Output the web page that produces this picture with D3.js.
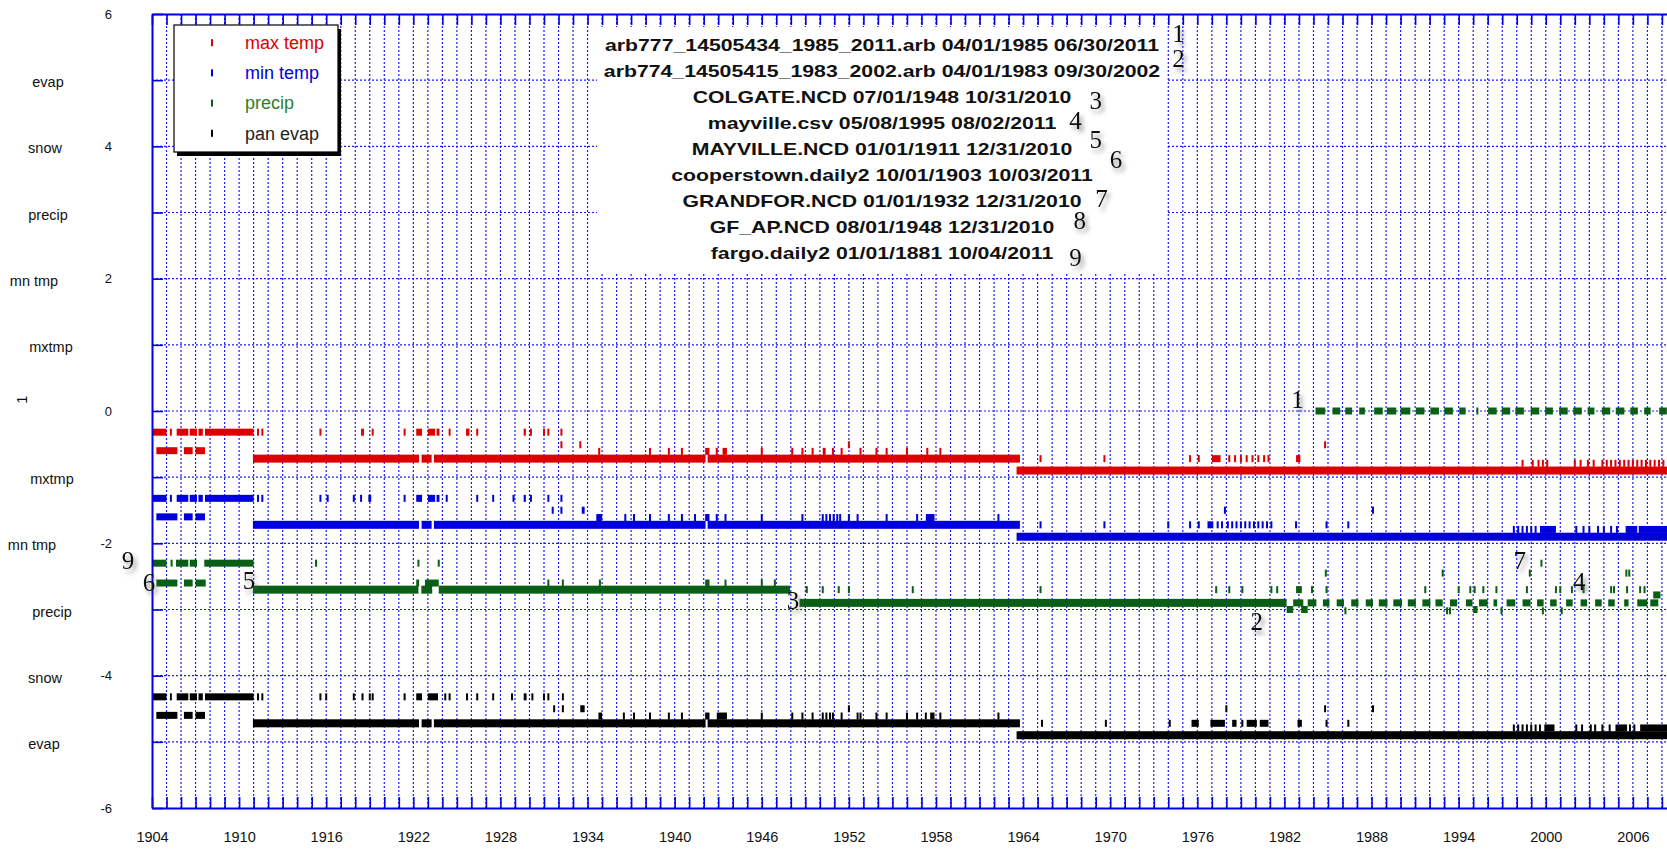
<!DOCTYPE html>
<html>
<head>
<meta charset="utf-8">
<script src="https://cdn.jsdelivr.net/npm/d3@7"></script>
<style>
  html, body { margin: 0; padding: 0; background: #fff; overflow: hidden; }
  svg { display: block; font-family: "Liberation Sans", Arial, Helvetica, sans-serif; }
</style>
</head>
<body>
<svg id="chart" width="1667" height="853"></svg>
<script>
// ---------------------------------------------------------------
// Station record availability, 1904 onwards.
// Each record is drawn as [fromYear, toYear, rowLevel];
// short reports are listed as [rowLevel, [years...]].
// ---------------------------------------------------------------

const yearLabels = [1904, 1910, 1916, 1922, 1928, 1934, 1940, 1946, 1952, 1958, 1964, 1970, 1976, 1982, 1988, 1994, 2000, 2006];
const yTickLabels = [6, 4, 2, 0, -2, -4, -6];
const sideLabels = ["evap", "snow", "precip", "mn tmp", "mxtmp", "mxtmp", "mn tmp", "precip", "snow", "evap"];
const sideLevels = [5, 4, 3, 2, 1, -1, -2, -3, -4, -5];

const legendNames = ["max temp", "min temp", "precip", "pan evap"];

const stationFiles = [
  "arb777_14505434_1985_2011.arb 04/01/1985 06/30/2011",
  "arb774_14505415_1983_2002.arb 04/01/1983 09/30/2002",
  "COLGATE.NCD 07/01/1948 10/31/2010",
  "mayville.csv 05/08/1995 08/02/2011",
  "MAYVILLE.NCD 01/01/1911 12/31/2010",
  "cooperstown.daily2 10/01/1903 10/03/2011",
  "GRANDFOR.NCD 01/01/1932 12/31/2010",
  "GF_AP.NCD 08/01/1948 12/31/2010",
  "fargo.daily2 01/01/1881 10/04/2011"
];

// ---- max temperature ----
const maxTempLines = [
  [1910.95, 1922.39, -0.72], [1922.57, 1923.26, -0.72], [1923.42, 1942.13, -0.72],
  [1942.27, 1963.78, -0.72], [1963.55, 2012, -0.9]
];
const maxTempBlocks = [
  [1904.0, 1905.0, -0.32], [1905.7, 1906.5, -0.32], [1906.6, 1907.1, -0.32], [1907.2, 1907.5, -0.32], [1907.65, 1911.0, -0.32],
  [1904.3, 1905.75, -0.6], [1906.2, 1906.8, -0.6], [1907.0, 1907.65, -0.6],
  [1918.4, 1918.6, -0.32], [1922.2, 1922.6, -0.32], [1923.0, 1923.5, -0.32], [1923.6, 1923.8, -0.32], [1929.6, 1929.75, -0.32],
  [1942.1, 1942.4, -0.61], [1943.3, 1943.6, -0.61], [1950.2, 1950.4, -0.61],
  [1977.0, 1977.6, -0.72], [1982.8, 1983.1, -0.72]
];
const maxTempTicks = [
  [-0.32, [1905.3, 1911.3, 1911.6, 1915.6, 1919.2, 1921.4, 1924.5, 1925.7, 1925.8, 1926.4, 1930.1, 1931.0, 1931.3, 1932.2]],
  [-0.6, [1904.0]],
  [-0.51, [1932.2, 1933.5, 1952.0, 1984.8]],
  [-0.61, [1934.8, 1938.3, 1939.6, 1940.5, 1942.9, 1946.0, 1948.1, 1948.8, 1949.5, 1950.9, 1951.5, 1952.8, 1953.9, 1954.6, 1956.0, 1957.4, 1958.3]],
  [-0.72, [1965.2, 1969.6, 1975.5, 1976.1, 1978.2, 1978.6, 1979.0, 1979.4, 1979.8, 1980.2, 1980.6, 1980.9]],
  [-0.79, [1998.4, 1999.1, 1999.5, 1999.8, 2000.1, 2002.0, 2002.4, 2002.9, 2003.3, 2003.9, 2004.2, 2004.5, 2004.8, 2005.1, 2005.4, 2005.7, 2006.0, 2006.3, 2006.6, 2006.9, 2007.2, 2007.5, 2007.8, 2008.1]]
];

// ---- min temperature ----
const minTempLines = [
  [1910.95, 1922.39, -1.72], [1922.57, 1923.26, -1.72], [1923.42, 1942.13, -1.72],
  [1942.27, 1963.78, -1.72], [1963.55, 2012, -1.9]
];
const minTempBlocks = [
  [1904.0, 1905.0, -1.32], [1905.7, 1906.5, -1.32], [1906.6, 1907.1, -1.32], [1907.2, 1907.5, -1.32], [1907.65, 1911.0, -1.32],
  [1904.3, 1905.75, -1.6], [1906.2, 1906.8, -1.6], [1907.0, 1907.65, -1.6],
  [1918.9, 1919.1, -1.32], [1922.2, 1922.6, -1.32], [1923.0, 1923.5, -1.32], [1923.6, 1923.8, -1.32], [1929.6, 1929.75, -1.32],
  [1933.6, 1933.8, -1.5],
  [1934.6, 1935.0, -1.61], [1942.1, 1942.4, -1.61], [1957.3, 1957.9, -1.61],
  [1976.7, 1977.1, -1.72],
  [1999.6, 2000.7, -1.79], [2005.5, 2006.3, -1.79], [2006.4, 2012, -1.79]
];
const minTempTicks = [
  [-1.32, [1905.3, 1911.3, 1911.6, 1915.6, 1916.1, 1917.9, 1918.4, 1921.4, 1924.3, 1926.4, 1927.5, 1928.9, 1930.1, 1931.3, 1932.2]],
  [-1.6, [1904.0]],
  [-1.5, [1931.6, 1932.2, 1977.9, 1988.1]],
  [-1.61, [1936.6, 1937.2, 1938.3, 1939.6, 1940.5, 1941.4, 1942.9, 1943.5, 1946.0, 1948.8, 1950.2, 1950.45, 1950.7, 1950.95, 1951.2, 1951.4, 1952.0, 1952.6, 1954.6, 1956.7, 1962.3]],
  [-1.72, [1965.2, 1969.6, 1974.0, 1975.5, 1976.1, 1977.4, 1977.7, 1978.1, 1978.4, 1978.7, 1979.0, 1979.3, 1979.6, 1979.9, 1980.2, 1980.5, 1980.8, 1981.1, 1982.8, 1984.9, 1986.4]],
  [-1.79, [1997.8, 1998.1, 1998.4, 1998.7, 1999.0, 1999.3, 2002.1, 2002.6, 2003.0, 2003.6, 2004.0, 2004.5, 2004.9]]
];

// ---- precipitation ----
const precipLines = [
  [1910.95, 1922.35, -2.7], [1922.55, 1923.3, -2.7], [1923.75, 1947.95, -2.7],
  [1948.6, 1982.15, -2.9]
];
const precipBlocks = [
  [1904.0, 1905.0, -2.3], [1905.65, 1906.5, -2.3], [1906.6, 1907.1, -2.3], [1907.6, 1911.0, -2.3],
  [1904.3, 1905.75, -2.6], [1906.2, 1906.8, -2.6], [1907.0, 1907.7, -2.6],
  [1922.2, 1922.4, -2.6], [1922.8, 1923.75, -2.6], [1942.1, 1942.4, -2.6],
  [1982.8, 1983.2, -2.7],
  [1982.15, 1982.6, -3.0], [1983.15, 1983.6, -3.0], [1995.0, 1995.3, -3.0],
  [2007.4, 2007.9, -2.78]
];
// arb774 yearly pieces on the Colgate row
const precipArb774 = [
  [1982.6, 1983.3], [1983.6, 1984.2], [1984.65, 1985.1], [1985.6, 1986.1], [1986.6, 1987.1], [1987.6, 1988.1],
  [1988.5, 1989.1], [1989.5, 1990.1], [1990.5, 1991.05], [1991.5, 1992.05], [1992.4, 1992.9], [1993.4, 1993.9],
  [1994.5, 1994.95], [1995.4, 1996.0], [1996.4, 1996.65], [1997.3, 1997.9], [1998.4, 1998.95], [1999.4, 1999.85],
  [2000.3, 2000.75], [2001.4, 2001.85], [2002.4, 2002.85], [2003.4, 2003.85], [2004.3, 2004.75], [2005.4, 2005.7],
  [2006.3, 2007.0], [2007.2, 2007.75]
];
// arb777 yearly pieces on the zero row
const precipArb777 = [
  [1984.14, 1984.81], [1985.31, 1985.84], [1986.19, 1986.66], [1987.15, 1987.54], [1988.18, 1988.77], [1989.05, 1989.7],
  [1989.99, 1990.67], [1991.05, 1991.64], [1992.05, 1992.64], [1993.01, 1993.6], [1994.04, 1994.48], [1995.22, 1995.32],
  [1996.03, 1996.62], [1996.97, 1997.55], [1997.9, 1998.49], [1998.96, 1999.55], [1999.96, 2000.49], [2000.92, 2001.51],
  [2001.89, 2002.48], [2002.88, 2003.35], [2003.86, 2004.44], [2004.82, 2005.41], [2005.82, 2006.34], [2006.78, 2007.22],
  [2007.81, 2008.34]
];
const precipTicks = [
  [-2.3, [1905.35, 1915.3, 1922.35, 1923.75, 1999.7]],
  [-2.45, [1984.85, 1992.9, 1998.9, 2005.55, 2005.75]],
  [-2.6, [1931.3, 1932.3, 1934.85, 1943.5, 1946.0, 1946.9]],
  [-2.7, [1949.1, 1950.2, 1951.3, 1952.0, 1956.4, 1965.2, 1977.3, 1978.2, 1979.1, 1981.1, 1981.5, 1983.9, 1984.9, 1991.7, 1994.0, 1994.8, 1995.1, 1995.7, 1996.6, 1998.7, 2000.7, 2001.0, 2001.8, 2002.6, 2004.5, 2004.7, 2005.6, 2006.5, 2006.8]],
  [-3.02, [1986.2, 1993.2, 1993.4, 1996.95, 1999.8, 2001.1]]
];

// ---- pan evaporation ----
const evapLines = [
  [1910.95, 1922.39, -4.72], [1922.57, 1923.26, -4.72], [1923.42, 1942.13, -4.72],
  [1942.27, 1963.78, -4.72], [1963.55, 2012, -4.9]
];
const evapBlocks = [
  [1904.0, 1905.0, -4.32], [1905.7, 1906.5, -4.32], [1906.6, 1907.1, -4.32], [1907.2, 1907.5, -4.32], [1907.65, 1911.0, -4.32],
  [1904.3, 1905.75, -4.6], [1906.2, 1906.8, -4.6], [1907.0, 1907.65, -4.6],
  [1922.2, 1922.6, -4.32], [1923.0, 1923.7, -4.32], [1929.6, 1929.8, -4.32],
  [1933.5, 1933.8, -4.5],
  [1934.75, 1935.0, -4.61], [1942.1, 1942.4, -4.61], [1942.9, 1943.6, -4.61], [1957.6, 1957.9, -4.61],
  [1975.6, 1976.1, -4.72], [1976.9, 1977.9, -4.72], [1978.4, 1978.7, -4.72], [1979.4, 1980.1, -4.72], [1980.3, 1980.9, -4.72], [1982.9, 1983.2, -4.72],
  [1999.9, 2000.6, -4.79], [2004.8, 2005.6, -4.79], [2006.5, 2012, -4.79]
];
const evapTicks = [
  [-4.32, [1905.3, 1911.3, 1911.6, 1915.6, 1916.0, 1917.9, 1918.5, 1919.0, 1919.2, 1921.4, 1924.2, 1924.5, 1925.7, 1926.4, 1927.5, 1928.8, 1930.2, 1931.0, 1931.3, 1932.3]],
  [-4.6, [1904.0]],
  [-4.5, [1931.7, 1932.3, 1952.0, 1978.0, 1984.8, 1988.1]],
  [-4.61, [1936.5, 1937.2, 1938.3, 1939.6, 1940.5, 1946.0, 1948.1, 1948.8, 1949.5, 1950.2, 1950.45, 1950.7, 1950.9, 1951.5, 1952.6, 1952.8, 1953.9, 1954.6, 1956.0, 1956.7, 1957.3, 1958.3, 1962.3]],
  [-4.72, [1965.3, 1969.7, 1974.1, 1979.1, 1984.9, 1986.4]],
  [-4.79, [1997.8, 1998.1, 1998.4, 1998.7, 1999.0, 1999.3, 1999.6, 2002.1, 2002.5, 2003.1, 2003.4, 2003.9, 2004.4, 2005.8, 2006.1]]
];

// station numbers beside the rows: [label, year, level]
const stationMarks = [
  ["9", 1902.35, -2.26], ["6", 1903.8, -2.59], ["5", 1910.68, -2.56], ["3", 1948.15, -2.87],
  ["2", 1980.1, -3.18], ["1", 1982.9, 0.17], ["7", 1998.2, -2.26], ["4", 2002.3, -2.58]
];
// station numbers beside the file list: [label, year, level]
const fileMarks = [
  ["1", 1974.7, 5.7], ["2", 1974.7, 5.33], ["3", 1969.0, 4.69], ["4", 1967.6, 4.39], ["5", 1969.0, 4.1],
  ["6", 1970.4, 3.8], ["7", 1969.4, 3.21], ["8", 1967.9, 2.88], ["9", 1967.6, 2.32]
];

// ---------------------------------------------------------------
const W = 1667, H = 853;
const plotLeft = 152, plotTop = 14, plotBottom = 808;
const x = d3.scaleLinear().domain([1904, 2012]).range([plotLeft, 1720]);
const y = d3.scaleLinear().domain([-6, 6]).range([plotBottom, plotTop]);

const BLUE = "#0000e6";
const GRID = "#1a1aff";
const colors = { max: "#dd0000", min: "#0000dd", precip: "#0a5e16", evap: "#000000" };

const svg = d3.select("#chart");

const defs = svg.append("defs");
const sh = defs.append("filter").attr("id", "numShadow")
  .attr("x", "-60%").attr("y", "-60%").attr("width", "220%").attr("height", "220%");
sh.append("feDropShadow").attr("dx", 3).attr("dy", 4).attr("stdDeviation", 2.2)
  .attr("flood-color", "#555").attr("flood-opacity", 0.6);
defs.append("clipPath").attr("id", "plotClip").append("rect")
  .attr("x", plotLeft).attr("y", plotTop).attr("width", W - plotLeft).attr("height", plotBottom - plotTop);

svg.append("rect").attr("width", W).attr("height", H).attr("fill", "#fff");

// grid
const allYears = d3.range(1904, 2013);
const grid = svg.append("g").attr("clip-path", "url(#plotClip)");
grid.selectAll("line.v").data(allYears).join("line")
  .attr("class", "v")
  .attr("x1", d => x(d)).attr("x2", d => x(d))
  .attr("y1", plotTop).attr("y2", plotBottom)
  .attr("stroke", GRID).attr("stroke-width", 1.2).attr("stroke-dasharray", "2,2");
grid.selectAll("line.h").data(d3.range(-5, 6)).join("line")
  .attr("class", "h")
  .attr("x1", plotLeft).attr("x2", W)
  .attr("y1", d => y(d)).attr("y2", d => y(d))
  .attr("stroke", GRID).attr("stroke-width", 1.2).attr("stroke-dasharray", "2,2");

// file list panel
const listCx = 882;
svg.append("rect").attr("x", 597).attr("y", 27).attr("width", 570).attr("height", 245).attr("fill", "#fff");
const listG = svg.append("g");
listG.selectAll("text").data(stationFiles).join("text")
  .attr("transform", (d, i) => `translate(${listCx},${45 + i * 26 + 6}) scale(1.25,1)`)
  .attr("text-anchor", "middle")
  .attr("font-weight", "bold")
  .attr("font-size", 17)
  .attr("fill", "#111")
  .text(d => d);

// legend
const lg = svg.append("g");
lg.append("rect").attr("x", 177).attr("y", 29).attr("width", 164).attr("height", 127).attr("fill", "#000");
lg.append("rect").attr("x", 174).attr("y", 25).attr("width", 164).attr("height", 127)
  .attr("fill", "#fff").attr("stroke", "#000").attr("stroke-width", 1.2);
const legendColors = [colors.max, colors.min, "#2a7f2a", "#222"];
const legendMarkColors = [colors.max, colors.min, colors.precip, "#000"];
legendNames.forEach((name, i) => {
  const cy = 42.7 + i * 30.2;
  lg.append("rect").attr("x", 211).attr("y", cy - 3.5).attr("width", 2).attr("height", 7).attr("fill", legendMarkColors[i]);
  lg.append("text").attr("x", 245).attr("y", cy + 6.3).attr("font-size", 18)
    .attr("fill", legendColors[i]).text(name);
});

// data marks
const marks = svg.append("g").attr("clip-path", "url(#plotClip)");
const LINE_H = 8, BLOCK_H = 7, TICK_W = 2;

function drawRecord(color, lines, blocks, ticks) {
  const g = marks.append("g").attr("fill", color);
  g.selectAll("rect.line").data(lines).join("rect").attr("class", "line")
    .attr("x", d => x(d[0])).attr("width", d => Math.max(TICK_W, x(d[1]) - x(d[0])))
    .attr("y", d => y(d[2]) - LINE_H / 2).attr("height", LINE_H);
  g.selectAll("rect.block").data(blocks).join("rect").attr("class", "block")
    .attr("x", d => x(d[0])).attr("width", d => Math.max(TICK_W, x(d[1]) - x(d[0])))
    .attr("y", d => y(d[2]) - BLOCK_H / 2).attr("height", BLOCK_H);
  const flat = ticks.flatMap(([lvl, yrs]) => yrs.map(yr => [yr, lvl]));
  g.selectAll("rect.tick").data(flat).join("rect").attr("class", "tick")
    .attr("x", d => x(d[0]) - TICK_W / 2).attr("width", TICK_W)
    .attr("y", d => y(d[1]) - BLOCK_H / 2).attr("height", BLOCK_H);
  return g;
}

drawRecord(colors.max, maxTempLines, maxTempBlocks, maxTempTicks);
drawRecord(colors.min, minTempLines, minTempBlocks, minTempTicks);
const pg = drawRecord(colors.precip, precipLines, precipBlocks, precipTicks);
pg.selectAll("rect.arb774").data(precipArb774).join("rect").attr("class", "arb774")
  .attr("x", d => x(d[0])).attr("width", d => x(d[1]) - x(d[0]))
  .attr("y", y(-2.9) - BLOCK_H / 2).attr("height", BLOCK_H);
pg.selectAll("rect.arb777").data(precipArb777).join("rect").attr("class", "arb777")
  .attr("x", d => x(d[0])).attr("width", d => Math.max(TICK_W, x(d[1]) - x(d[0])))
  .attr("y", y(0) - BLOCK_H / 2).attr("height", BLOCK_H);
drawRecord(colors.evap, evapLines, evapBlocks, evapTicks);

// axes
const axisFont = "Liberation Sans, Arial, sans-serif";

const bottomTicks = svg.append("g").attr("transform", `translate(0,${plotBottom})`)
  .call(d3.axisBottom(x).tickValues(allYears).tickSize(-11).tickSizeOuter(0).tickFormat(""));
const topTicks = svg.append("g").attr("transform", `translate(0,${plotTop})`)
  .call(d3.axisTop(x).tickValues(allYears).tickSize(-11).tickSizeOuter(0).tickFormat(""));
const leftTicks = svg.append("g").attr("transform", `translate(${plotLeft},0)`)
  .call(d3.axisLeft(y).tickValues(d3.range(-6, 7)).tickSize(-11).tickSizeOuter(0).tickFormat(""));
[bottomTicks, topTicks, leftTicks].forEach(a => {
  a.selectAll("path.domain").attr("stroke", BLUE).attr("stroke-width", 2);
  a.selectAll(".tick line").attr("stroke", BLUE).attr("stroke-width", 1.6);
});

const xLab = svg.append("g").attr("transform", `translate(0,${plotBottom})`)
  .call(d3.axisBottom(x).tickValues(yearLabels).tickSize(0).tickPadding(24).tickFormat(d => String(d)));
xLab.select("path.domain").remove();
xLab.selectAll("text").attr("font-size", 14.5).attr("font-family", axisFont).attr("fill", "#111");

const yLab = svg.append("g").attr("transform", `translate(${plotLeft},0)`)
  .call(d3.axisLeft(y).tickValues(yTickLabels).tickSize(0).tickPadding(40).tickFormat(d => String(d)));
yLab.select("path.domain").remove();
yLab.selectAll("text").attr("font-size", 13).attr("font-family", axisFont).attr("fill", "#111");

// variable names down the left margin
const sideX = [48, 45, 48, 34, 51, 52, 32, 52, 45, 44];
svg.append("g").selectAll("text").data(sideLabels).join("text")
  .attr("x", (d, i) => sideX[i]).attr("y", (d, i) => y(sideLevels[i] - 0.04) + 4.5)
  .attr("text-anchor", "middle").attr("font-size", 14.5).attr("fill", "#111")
  .text(d => d);
svg.append("text").attr("transform", `translate(27,${y(0.17)}) rotate(-90)`)
  .attr("text-anchor", "middle").attr("font-size", 14.5).attr("fill", "#111").text("1");

// station number annotations
const serif = "Liberation Serif, Times New Roman, serif";
svg.append("g").selectAll("text").data(stationMarks.concat(fileMarks)).join("text")
  .attr("x", d => x(d[1])).attr("y", d => y(d[2]) + 8.5)
  .attr("text-anchor", "middle").attr("font-family", serif).attr("font-size", 25)
  .attr("fill", "#111").attr("filter", "url(#numShadow)")
  .text(d => d[0]);
</script>
</body>
</html>
